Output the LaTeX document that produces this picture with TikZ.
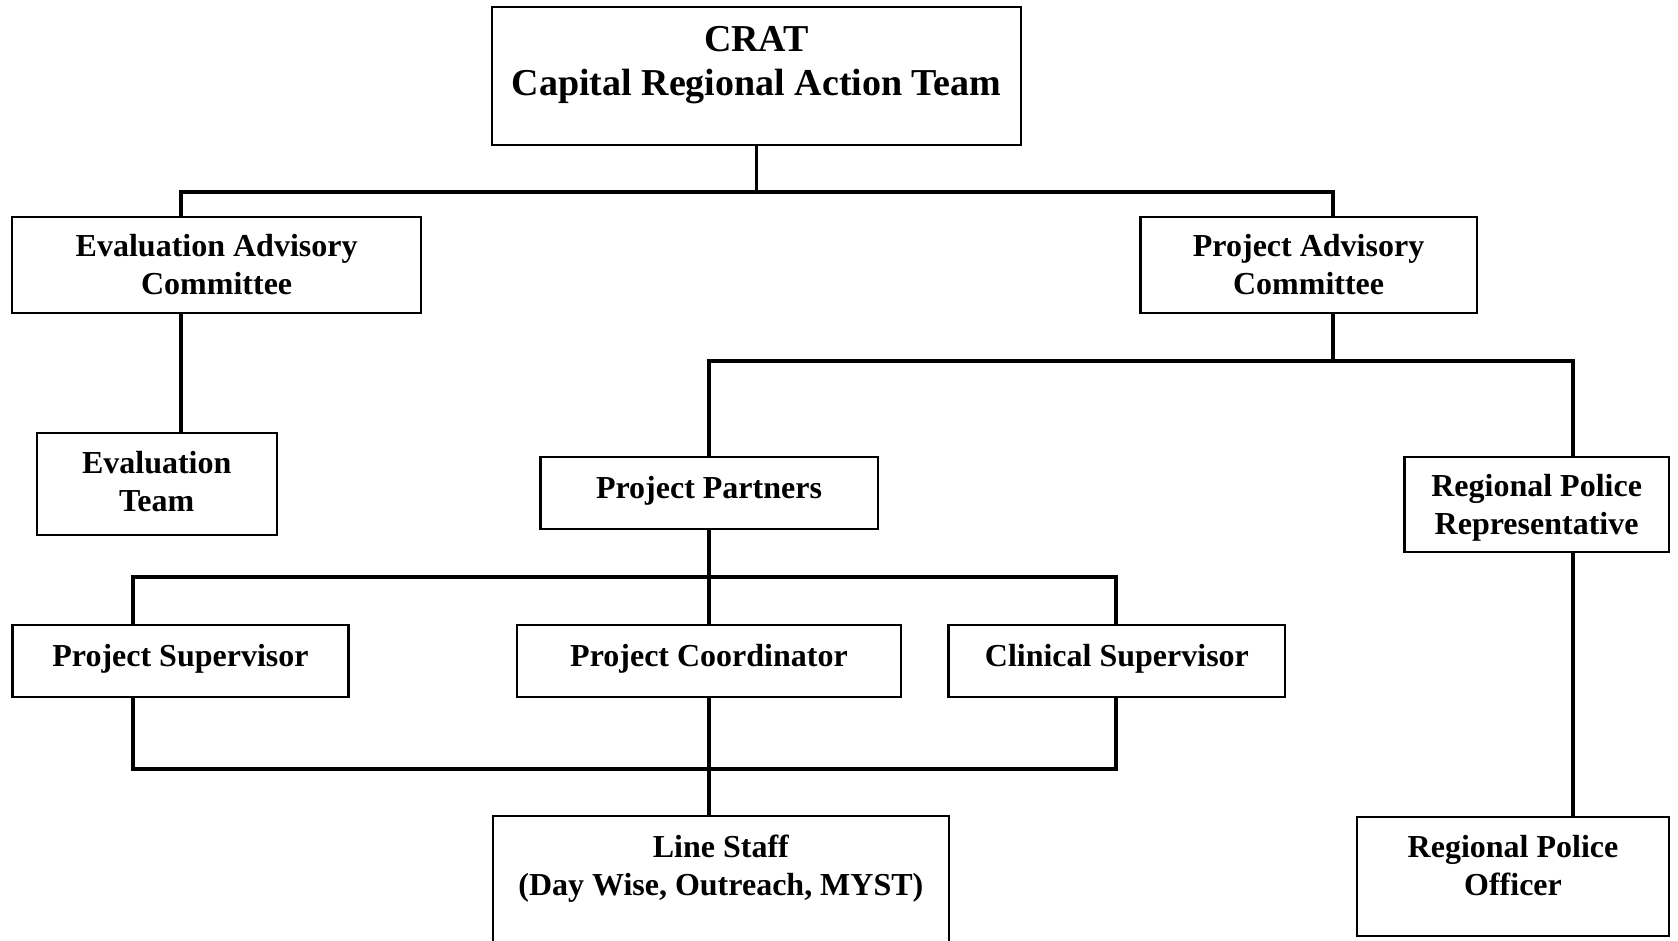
\documentclass[tikz,border=0pt]{standalone}
\usepackage{fontspec}
\setmainfont{Liberation Serif}
\begin{document}
\begin{tikzpicture}[x=1pt,y=-1pt,
  txt/.style={align=center, font=\fontsize{32}{38}\selectfont\bfseries},
  box/.style={draw, line width=2.2pt, inner sep=0pt, txt},
  lbl/.style={txt, inner sep=0pt},
  link/.style={line width=3.6pt}]
\useasboundingbox (0,0) rectangle (1678,940);
\fill[white] (0,0) rectangle (1678,940);

% boxes
\node[box, minimum width=529, minimum height=138.3,
      label={[lbl, yshift=11, font=\fontsize{38}{44}\selectfont\bfseries]center:{CRAT\\Capital Regional Action Team}}]
      (crat) at (756.5,75.9) {};
\node[box, minimum width=408.7, minimum height=96] (eac) at (216.65,264.7)
      {Evaluation Advisory\\Committee};
\node[box, minimum width=336.2, minimum height=96] (pac) at (1308.6,264.7)
      {Project Advisory\\Committee};
\node[box, minimum width=240, minimum height=102,
      label={[lbl, yshift=2]center:{Evaluation\\Team}}] (et) at (156.7,483.7) {};
\node[box, minimum width=337.2, minimum height=71.7,
      label={[lbl, yshift=2]center:{Project Partners}}] (pp) at (709,492.85) {};
\node[box, minimum width=264.2, minimum height=95.6,
      label={[lbl, yshift=-3]center:{Regional Police\\Representative}}] (rpr) at (1536.6,504.5) {};
\node[box, minimum width=336.1, minimum height=71.7,
      label={[lbl, yshift=2]center:{Project Supervisor}}] (ps) at (180.45,660.85) {};
\node[box, minimum width=384.2, minimum height=71.7,
      label={[lbl, yshift=2]center:{Project Coordinator}}] (pc) at (709,660.85) {};
\node[box, minimum width=336.8, minimum height=71.7,
      label={[lbl, yshift=2]center:{Clinical Supervisor}}] (cs) at (1116.9,660.85) {};
\node[box, minimum width=456.3, minimum height=144,
      label={[lbl, yshift=19.5]center:{Line Staff\\(Day Wise, Outreach, MYST)}}]
      (ls) at (720.85,888) {};
\node[box, minimum width=312.6, minimum height=119.3,
      label={[lbl, yshift=10.5]center:{Regional Police\\Officer}}]
      (rpo) at (1513,876.35) {};

% connector columns and bus rows
\coordinate (colE) at (180.7,0);
\coordinate (colP) at (1333,0);
\coordinate (colR) at (1573,0);
\coordinate (colL) at (132.7,0);
\coordinate (colC) at (1116,0);
\coordinate (rowA) at (0,192);
\coordinate (rowB) at (0,361);
\coordinate (rowC) at (0,577);
\coordinate (rowD) at (0,769);

% connectors
\draw[link] (crat.south) -- (crat.south |- rowA);
\draw[link] (eac.north -| colE) -- (colE |- rowA) -- (colP |- rowA) -- (pac.north -| colP);
\draw[link] (eac.south -| colE) -- (et.north -| colE);
\draw[link] (pac.south -| colP) -- (colP |- rowB);
\draw[link] (pp.north) -- (pp.north |- rowB) -- (colR |- rowB) -- (rpr.north -| colR);
\draw[link] (pp.south) -- (pc.north);
\draw[link] (ps.north -| colL) -- (colL |- rowC) -- (colC |- rowC) -- (cs.north -| colC);
\draw[link] (ps.south -| colL) -- (colL |- rowD) -- (colC |- rowD) -- (cs.south -| colC);
\draw[link] (pc.south) -- (ls.north -| pc.south);
\draw[link] (rpr.south -| colR) -- (rpo.north -| colR);
\end{tikzpicture}
\end{document}
